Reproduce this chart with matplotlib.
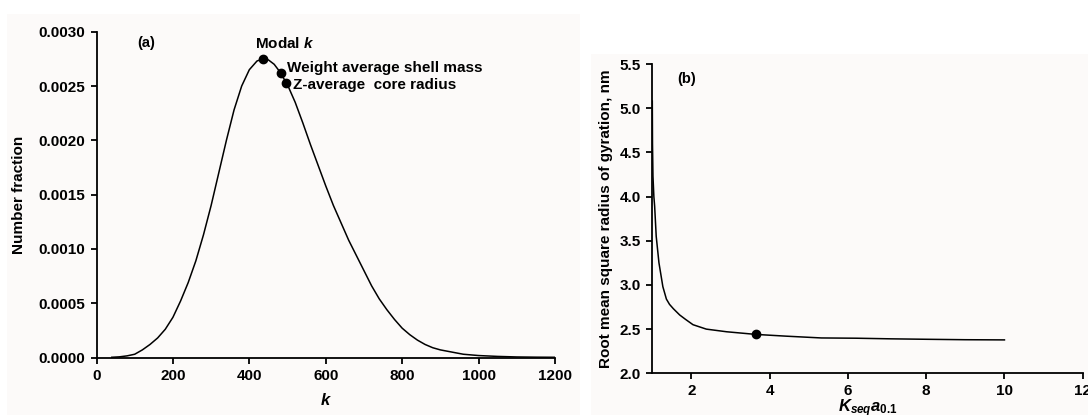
import matplotlib
matplotlib.use("Agg")
import matplotlib.pyplot as plt
from matplotlib.patches import Rectangle

plt.rcParams['font.family'] = ['Liberation Sans', 'DejaVu Sans']
plt.rcParams['font.weight'] = 'bold'
plt.rcParams['mathtext.fontset'] = 'custom'
plt.rcParams['mathtext.it'] = 'Liberation Sans:bold:italic'
plt.rcParams['mathtext.rm'] = 'Liberation Sans:bold'
plt.rcParams['mathtext.bf'] = 'Liberation Sans:bold'

# ---- panel (a) data ----
k_vals = [40, 60, 80, 100, 120, 140, 160, 180, 200, 220, 240, 260, 280, 300, 320,
          340, 360, 380, 400, 420, 435, 450, 465, 480, 500, 520, 540, 560, 580,
          600, 620, 640, 660, 680, 700, 720, 740, 760, 780, 800, 820, 840, 860,
          880, 900, 930, 960, 1000, 1050, 1100, 1150, 1200]
num_frac = [0.000002, 0.000006, 0.000015, 0.00003, 0.00007, 0.00012, 0.00018,
            0.00026, 0.00037, 0.00052, 0.00069, 0.00089, 0.00113, 0.00140,
            0.00170, 0.00200, 0.00228, 0.00250, 0.00265, 0.00273, 0.00275,
            0.00274, 0.00270, 0.00263, 0.00251, 0.00235, 0.00216, 0.00196,
            0.00177, 0.00158, 0.00140, 0.00124, 0.00108, 0.00094, 0.00080,
            0.00066, 0.00054, 0.00044, 0.00035, 0.00027, 0.00021, 0.00016,
            0.00012, 0.00009, 0.00007, 0.00005, 0.00003, 0.000018, 0.00001,
            0.000005, 0.000003, 0.000002]
marker_k = [435, 482, 497]
marker_frac = [0.00275, 0.00262, 0.00253]
a_xticks = [0, 200, 400, 600, 800, 1000, 1200]
a_yticks = [0.0, 0.0005, 0.0010, 0.0015, 0.0020, 0.0025, 0.0030]

# ---- panel (b) data ----
kseq = [1.0, 1.005, 1.017, 1.04, 1.06, 1.10, 1.17, 1.27, 1.36, 1.44, 1.54, 1.70,
        1.85, 2.04, 2.38, 2.9, 3.65, 4.43, 5.32, 6.21, 7.1, 7.99, 9.0, 10.0]
rg = [5.08, 4.6, 4.23, 4.0, 3.89, 3.55, 3.25, 2.98, 2.84, 2.78, 2.73, 2.66,
      2.61, 2.55, 2.50, 2.47, 2.44, 2.42, 2.40, 2.397, 2.39, 2.385, 2.38, 2.378]
b_marker_x = [3.65]
b_marker_y = [2.44]
b_xticks = [2, 4, 6, 8, 10, 12]
b_yticks = [2.0, 2.5, 3.0, 3.5, 4.0, 4.5, 5.0, 5.5]

W, H = 1088, 415
fig = plt.figure(figsize=(W / 100, H / 100), dpi=100)
fig.patch.set_facecolor('white')
bg = '#fcfaf9'
fig.add_artist(Rectangle((7 / W, 0), (580 - 7) / W, (H - 14) / H,
                         transform=fig.transFigure, facecolor=bg, edgecolor='none', zorder=0))
fig.add_artist(Rectangle((591 / W, 0), (W - 591) / W, (H - 54) / H,
                         transform=fig.transFigure, facecolor=bg, edgecolor='none', zorder=0))

FS = 11

def style(ax):
    ax.set_facecolor('none')
    for s in ['top', 'right']:
        ax.spines[s].set_visible(False)
    for s in ['left', 'bottom']:
        ax.spines[s].set_linewidth(1.3)
    ax.tick_params(direction='out', length=4, width=1.3, labelsize=FS, pad=4)
    for lab in ax.get_xticklabels() + ax.get_yticklabels():
        lab.set_fontweight('bold')

# panel (a)
axa = fig.add_axes([96.5 / W, (H - 357.5) / H, (555 - 96.5) / W, (357.5 - 31.7) / H])
axa.plot(k_vals, num_frac, color='black', lw=1.1)
axa.plot(marker_k, marker_frac, 'o', color='black', ms=6)
axa.set_xlim(0, 1200)
axa.set_ylim(0, 0.0030)
axa.set_xticks(a_xticks)
axa.set_yticks(a_yticks)
axa.set_yticklabels([f"{v:.4f}" for v in a_yticks])
style(axa)
axa.set_ylabel('Number fraction', fontsize=FS, fontweight='bold', labelpad=9)
axa.set_xlabel('$k$', fontsize=FS + 1, labelpad=7)
axa.text(106, 0.0029, '(a)', fontsize=FS - 0.5, fontweight='bold', va='center', ha='left')
axa.text(415, 0.00285, 'Modal $k$', fontsize=FS, fontweight='bold', va='baseline', ha='left')
axa.text(499, 0.00267, 'Weight average shell mass', fontsize=FS, fontweight='bold',
         va='center', ha='left')
axa.text(514, 0.00251, 'Z-average  core radius', fontsize=FS, fontweight='bold',
         va='center', ha='left')

# panel (b)
axb = fig.add_axes([652.3 / W, (H - 373.3) / H, (1082.7 - 652.3) / W, (373.3 - 64) / H])
axb.plot(kseq, rg, color='black', lw=1.1)
axb.plot(b_marker_x, b_marker_y, 'o', color='black', ms=6)
axb.set_xlim(1.0, 12)
axb.set_ylim(2.0, 5.5)
axb.set_xticks(b_xticks)
axb.set_yticks(b_yticks)
axb.set_yticklabels([f"{v:.1f}" for v in b_yticks])
style(axb)
axb.set_ylabel('Root mean square radius of gyration, nm', fontsize=FS,
               fontweight='bold', labelpad=5)
axb.set_xlabel(r'$K_{seq}a_{\mathit{0.1}}$', fontsize=FS + 1, labelpad=-1)
axb.text(1.63, 5.33, '(b)', fontsize=FS - 0.5, fontweight='bold', va='center', ha='left')

fig.savefig('out.png', dpi=100, facecolor='white')
